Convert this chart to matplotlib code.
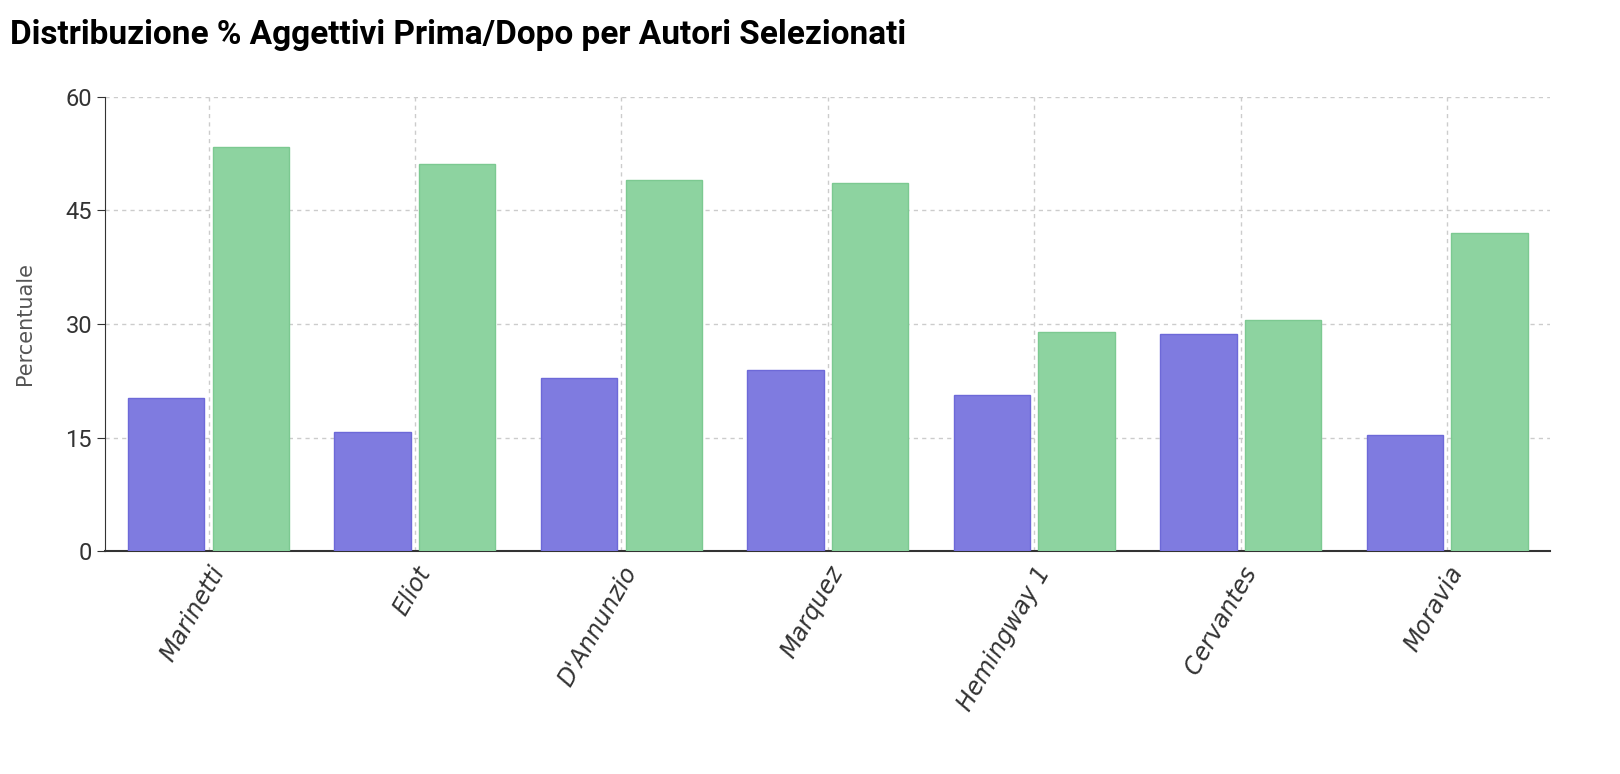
import matplotlib
matplotlib.use("Agg")
import matplotlib.pyplot as plt
import numpy as np

authors = ["Marinetti", "Eliot", "D'Annunzio", "Marquez", "Hemingway 1", "Cervantes", "Moravia"]
prima = [20.2, 15.7, 22.9, 23.9, 20.6, 28.7, 15.3]
dopo = [53.3, 51.1, 49.0, 48.6, 28.9, 30.5, 42.0]
yticks = [0, 15, 30, 45, 60]

fig = plt.figure(figsize=(16.2, 7.74), dpi=100)
ax = fig.add_axes([0.065, 0.288, 0.892, 0.587])
x = np.arange(len(authors))
w = 0.37
ax.bar(x - 0.205, prima, w, color="#7f7be0", edgecolor="#6d69d8", linewidth=1, zorder=3)
ax.bar(x + 0.205, dopo, w, color="#8dd3a0", edgecolor="#7cc991", linewidth=1, zorder=3)
ax.set_xlim(-0.5, len(authors) - 0.5)
ax.set_ylim(0, 60)
ax.set_yticks(yticks)
ax.set_yticklabels([str(t) for t in yticks], fontsize=17, family="Roboto", fontstretch="condensed", color="#333")
ax.set_xticks(x)
ax.set_xticklabels(authors, rotation=60, ha="right", rotation_mode="anchor", fontsize=17,
                   family="DejaVu Sans", style="oblique", color="#333")
ax.grid(True, color="#cccccc", linestyle=(0, (3, 3)), linewidth=1, zorder=0)
for s in ["top", "right"]:
    ax.spines[s].set_visible(False)
ax.spines["left"].set_color("#333")
ax.spines["bottom"].set_color("#333")
ax.spines["bottom"].set_linewidth(1.5)
ax.tick_params(axis="x", length=0, pad=8)
ax.tick_params(axis="y", length=6, color="#333")
ax.set_ylabel("Percentuale", fontsize=15, color="#555", labelpad=22)
fig.text(0.006, 0.955, "Distribuzione % Aggettivi Prima/Dopo per Autori Selezionati",
         fontsize=24, fontweight="bold", family="Roboto", fontstretch="condensed", va="center")
fig.savefig("out.png", dpi=100)
